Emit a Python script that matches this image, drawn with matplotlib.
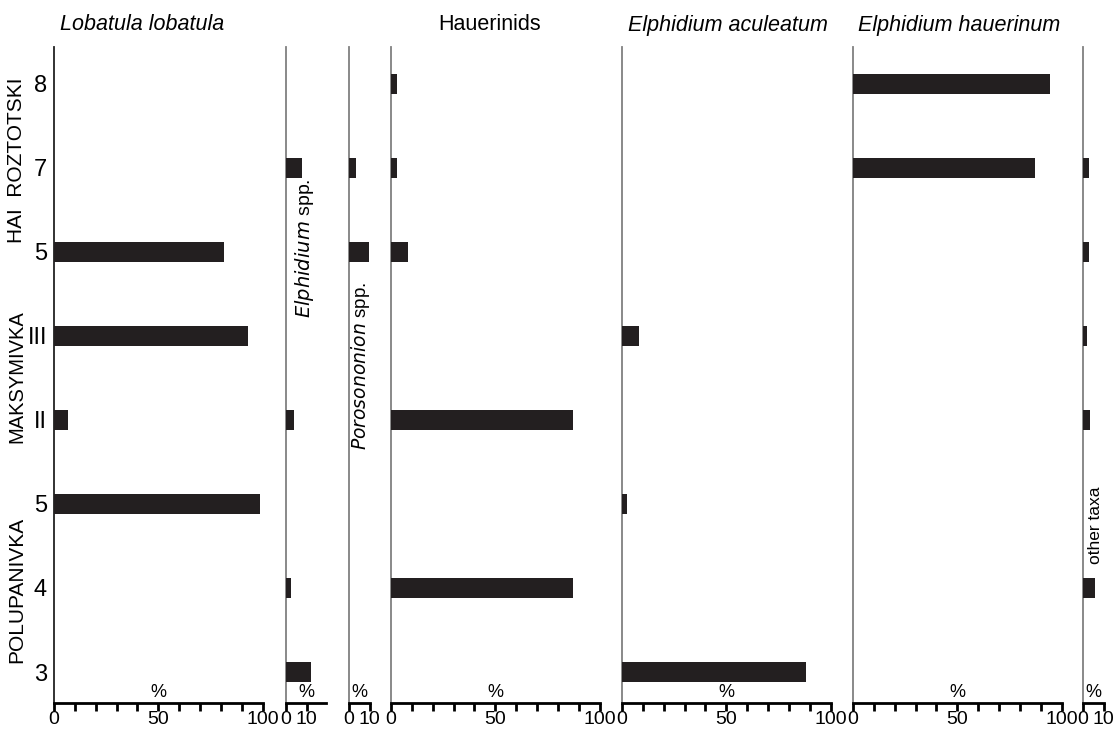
import matplotlib
matplotlib.use('Agg')
import matplotlib.pyplot as plt
import numpy as np

plt.rcParams['font.family'] = ['Liberation Sans', 'DejaVu Sans']

# samples, bottom to top
samples = ['3', '4', '5', 'II', 'III', '5', '7', '8']
lobatula = [0, 0, 98.5, 6.7, 92.8, 81.3, 0, 0]
elphidium_spp = [12, 2.4, 0, 3.8, 0, 0, 7.7, 0]
porosononion = [0, 0, 0, 0, 0, 9.6, 3.3, 0]
hauerinids = [0, 87, 0, 87, 0, 8.1, 2.8, 2.8]
aculeatum = [88.4, 0, 2.4, 0, 8.2, 0, 0, 0]
hauerinum = [0, 0, 0, 0, 0, 0, 87, 94.2]
other_taxa = [0, 5.7, 0, 3.3, 1.8, 2.9, 2.9, 0]

# panel: values, x-range, labelled ticks
panels = [
    (lobatula, 100, [0, 50, 100]),
    (elphidium_spp, 19.3, [0, 10]),
    (porosononion, 10, [0, 10]),
    (hauerinids, 100, [0, 50, 100]),
    (aculeatum, 100, [0, 50, 100]),
    (hauerinum, 100, [0, 50, 100]),
    (other_taxa, 10, [0, 10]),
]
lefts = [54, 286, 349, 391, 622, 853, 1083]

W, H = 1113, 729
fig = plt.figure(figsize=(W / 100, H / 100), dpi=100)
px = 2.087  # pixels per percent
y_top, y_bot = 47, 703
bar_col = '#231f20'
ypos = np.arange(len(samples))

for i, ((vals, rng, labs), x0) in enumerate(zip(panels, lefts)):
    ax = fig.add_axes([x0 / W, (H - y_bot) / H, rng * px / W, (y_bot - y_top) / H])
    ax.barh(ypos, vals, height=0.24, color=bar_col, zorder=3)
    ax.set_xlim(0, rng)
    ax.set_ylim(-0.369, 7.44)
    for s in ['top', 'right']:
        ax.spines[s].set_visible(False)
    ax.spines['left'].set_color('#222222' if i == 0 else '#808080')
    ax.spines['left'].set_linewidth(1.3)
    ax.spines['bottom'].set_color('black')
    ax.spines['bottom'].set_linewidth(2)
    if rng == 100:
        ax.set_xticks(np.arange(0, 101, 10))
        ax.set_xticklabels([str(t) if t in labs else '' for t in range(0, 101, 10)])
    else:
        ax.set_xticks(labs)
        ax.set_xticklabels([str(t) for t in labs])
    ax.tick_params(axis='x', direction='out', length=6, width=2, labelsize=14, pad=0)
    ax.text(rng / 2, -0.24, '%', ha='center', va='center', fontsize=13)
    if i == 0:
        ax.set_yticks(ypos)
        ax.set_yticklabels(samples, fontsize=17)
        ax.tick_params(axis='y', length=0, pad=5)
    else:
        ax.set_yticks([])

# titles
fig.text(60 / W, 1 - 25 / H, 'Lobatula lobatula', fontsize=15.5, style='italic', va='center', ha='left')
fig.text(490 / W, 1 - 25 / H, 'Hauerinids', fontsize=15.5, va='center', ha='center')
fig.text(628 / W, 1 - 25 / H, 'Elphidium aculeatum', fontsize=15.5, style='italic', va='center', ha='left')
fig.text(858 / W, 1 - 25 / H, 'Elphidium hauerinum', fontsize=15.5, style='italic', va='center', ha='left')

# rotated panel labels
fig.text(304 / W, 1 - 248 / H, r'$\it{Elphidium}$ spp.', fontsize=14, rotation=90, va='center', ha='center')
fig.text(361 / W, 1 - 366 / H, r'$\it{Porosononion}$ spp.', fontsize=13.5, rotation=90, va='center', ha='center')
fig.text(1095 / W, 1 - 525 / H, 'other taxa', fontsize=12.5, rotation=90, va='center', ha='center')

# site labels
fig.text(17 / W, 1 - 160 / H, 'HAI  ROZTOTSKI', fontsize=15, rotation=90, va='center', ha='center')
fig.text(17 / W, 1 - 377 / H, 'MAKSYMIVKA', fontsize=14.5, rotation=90, va='center', ha='center')
fig.text(17 / W, 1 - 590 / H, 'POLUPANIVKA', fontsize=15, rotation=90, va='center', ha='center')

fig.savefig('out.png', dpi=100)
